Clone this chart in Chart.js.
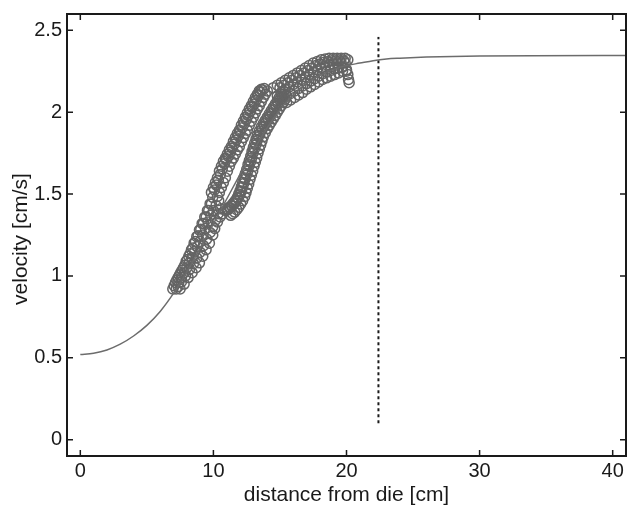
<!DOCTYPE html>
<html>
<head>
<meta charset="utf-8">
<script src="https://cdn.jsdelivr.net/npm/chart.js@4.4.0/dist/chart.umd.min.js"></script>
<style>
  html, body { margin: 0; padding: 0; background: #fff; overflow: hidden; }
  #wrap { width: 627px; height: 506px; position: relative; overflow: hidden; }
  #chart { display: block; }
</style>
</head>
<body>
<div id="wrap"><canvas id="chart"></canvas></div>
<script>
const xTicks = [0, 10, 20, 30, 40];
const yTicks = [0, 0.5, 1, 1.5, 2, 2.5];
const xLabel = 'distance from die [cm]';
const yLabel = 'velocity [cm/s]';

// fitted velocity curve
const fitX = [0, 1, 2, 3, 4, 5, 6, 7, 8, 9, 10, 11, 12, 13, 14, 15, 16, 17, 18, 19, 20, 21, 22, 23, 24, 26, 28, 30, 34, 41];
const fitY = [0.52, 0.528, 0.548, 0.583, 0.633, 0.698, 0.783, 0.893, 1.023, 1.168, 1.318, 1.47, 1.62, 1.765, 1.9, 2.015, 2.105, 2.175, 2.225, 2.26, 2.285, 2.30, 2.315, 2.325, 2.33, 2.337, 2.341, 2.343, 2.345, 2.346];

// measured points (open circles), read along the bands
const lowerLeft = [[6.95,0.92],[7.15,0.96],[7.35,0.99],[7.55,1.02],[7.75,1.05],[7.95,1.09],[8.15,1.12],[8.35,1.16],[8.55,1.20],[8.75,1.24],[8.95,1.28],[9.15,1.32],[9.35,1.36],[9.55,1.40],[9.75,1.44],[9.95,1.48]];
const lowerLeft2 = [[7.05,0.94],[7.25,0.975],[7.45,1.005],[7.65,1.035],[7.85,1.065],[8.05,1.10],[8.25,1.135],[8.45,1.17],[8.65,1.21],[8.85,1.245],[9.05,1.285],[9.25,1.32],[9.45,1.36],[9.65,1.40],[9.85,1.44]];
const lowerMid = [[7.2,0.92],[7.4,0.96],[7.6,0.99],[7.8,1.02],[8.0,1.05],[8.2,1.08],[8.4,1.11],[8.6,1.15],[8.8,1.18],[9.0,1.21],[9.2,1.25],[9.4,1.29],[9.6,1.33],[9.8,1.37],[10.0,1.40],[10.2,1.43],[10.4,1.46]];
const lowerRight2 = [[7.35,0.935],[7.6,0.965],[7.9,1.0],[8.2,1.04],[8.5,1.075],[8.75,1.11],[9.0,1.145],[9.25,1.185],[9.5,1.225],[9.75,1.265],[9.95,1.30],[10.15,1.34],[10.35,1.38],[10.55,1.41]];
const lowerRight = [[7.5,0.92],[7.8,0.95],[8.1,0.99],[8.4,1.02],[8.7,1.05],[8.95,1.08],[9.2,1.12],[9.45,1.16],[9.7,1.20],[9.95,1.25],[10.1,1.29],[10.3,1.33],[10.5,1.36],[10.7,1.38]];
const leftBranchA = [[9.85,1.51],[10.0,1.54],[10.15,1.57],[10.3,1.60],[10.45,1.64],[10.6,1.67],[10.75,1.70],[10.9,1.72],[11.05,1.745],[11.2,1.77],[11.35,1.79],[11.5,1.82],[11.65,1.845],[11.8,1.87],[11.95,1.89],[12.1,1.92],[12.25,1.945],[12.4,1.97],[12.55,1.995],[12.7,2.02],[12.85,2.04],[13.0,2.065],[13.15,2.09],[13.3,2.11],[13.45,2.13],[13.6,2.14]];
const leftBranchM = [[10.07,1.525],[10.22,1.555],[10.37,1.585],[10.52,1.62],[10.67,1.655],[10.82,1.685],[10.97,1.71],[11.12,1.73],[11.27,1.755],[11.42,1.78],[11.57,1.805],[11.72,1.83],[11.87,1.855],[12.02,1.88],[12.17,1.905],[12.32,1.93],[12.47,1.955],[12.62,1.98],[12.77,2.005],[12.92,2.03],[13.07,2.05],[13.22,2.075],[13.37,2.10],[13.52,2.12],[13.67,2.135],[13.82,2.145]];
const leftBranchB = [[10.3,1.485],[10.45,1.51],[10.6,1.54],[10.75,1.57],[10.9,1.60],[11.05,1.64],[11.2,1.67],[11.35,1.70],[11.5,1.72],[11.65,1.745],[11.8,1.77],[11.95,1.79],[12.1,1.82],[12.25,1.845],[12.4,1.87],[12.55,1.89],[12.7,1.92],[12.85,1.945],[13.0,1.97],[13.15,1.995],[13.3,2.02],[13.45,2.04],[13.6,2.065],[13.75,2.09],[13.9,2.11],[14.05,2.13]];
const rightBranchA = [[10.9,1.40],[11.05,1.41],[11.2,1.42],[11.35,1.43],[11.5,1.445],[11.65,1.46],[11.8,1.48],[11.9,1.50],[12.0,1.52],[12.1,1.545],[12.2,1.57],[12.3,1.60],[12.4,1.625],[12.5,1.65],[12.6,1.68],[12.7,1.705],[12.8,1.73],[12.9,1.76],[13.0,1.785],[13.1,1.81],[13.2,1.835],[13.3,1.86],[13.45,1.885],[13.6,1.91],[13.75,1.93],[13.9,1.95],[14.05,1.97],[14.2,1.99],[14.35,2.01],[14.5,2.03],[14.65,2.05],[14.8,2.07],[14.95,2.09],[15.1,2.11],[15.25,2.13]];
const rightBranchM = [[11.1,1.405],[11.25,1.415],[11.4,1.425],[11.55,1.44],[11.7,1.455],[11.85,1.475],[11.98,1.495],[12.08,1.515],[12.18,1.54],[12.28,1.565],[12.38,1.59],[12.48,1.615],[12.58,1.64],[12.68,1.67],[12.78,1.695],[12.88,1.72],[12.98,1.75],[13.08,1.775],[13.18,1.80],[13.28,1.825],[13.38,1.85],[13.5,1.87],[13.65,1.895],[13.8,1.915],[13.95,1.935],[14.1,1.955],[14.25,1.975],[14.4,1.995],[14.55,2.015],[14.7,2.035],[14.85,2.055],[15.0,2.075],[15.15,2.095],[15.3,2.11]];
const rightBranchB = [[11.3,1.37],[11.45,1.38],[11.6,1.39],[11.75,1.405],[11.9,1.42],[12.05,1.44],[12.2,1.46],[12.35,1.485],[12.45,1.51],[12.55,1.535],[12.65,1.56],[12.75,1.59],[12.85,1.615],[12.95,1.64],[13.05,1.67],[13.15,1.695],[13.25,1.72],[13.35,1.75],[13.45,1.775],[13.55,1.80],[13.65,1.825],[13.75,1.85],[13.9,1.875],[14.05,1.90],[14.2,1.92],[14.35,1.94],[14.5,1.96],[14.65,1.98],[14.8,2.00],[14.95,2.02],[15.1,2.04],[15.25,2.06],[15.4,2.08]];
const upperTop = [[14.5,2.15],[14.8,2.165],[15.1,2.18],[15.4,2.195],[15.7,2.21],[16.0,2.225],[16.3,2.24],[16.6,2.255],[16.9,2.27],[17.2,2.285],[17.5,2.30],[17.8,2.31],[18.1,2.32],[18.4,2.325],[18.7,2.33],[19.0,2.33],[19.3,2.33],[19.6,2.33],[19.9,2.33],[20.1,2.32]];
const upperMid2 = [[15.0,2.15],[15.3,2.165],[15.6,2.18],[15.9,2.195],[16.2,2.21],[16.5,2.225],[16.8,2.24],[17.1,2.255],[17.4,2.27],[17.7,2.285],[18.0,2.295],[18.3,2.305],[18.6,2.31],[18.9,2.315],[19.2,2.315],[19.5,2.315],[19.8,2.315]];
const upperMid = [[14.8,2.10],[15.1,2.12],[15.4,2.14],[15.7,2.155],[16.0,2.17],[16.3,2.185],[16.6,2.20],[16.9,2.215],[17.2,2.23],[17.5,2.245],[17.8,2.26],[18.1,2.27],[18.4,2.28],[18.7,2.29],[19.0,2.295],[19.3,2.30],[19.6,2.30],[19.9,2.30]];
const upperLow2 = [[15.2,2.085],[15.5,2.10],[15.8,2.115],[16.1,2.13],[16.4,2.145],[16.7,2.16],[17.0,2.175],[17.3,2.19],[17.6,2.205],[17.9,2.22],[18.2,2.235],[18.5,2.245],[18.8,2.255],[19.1,2.265],[19.4,2.27],[19.7,2.275]];
const upperLow = [[15.5,2.06],[15.8,2.075],[16.1,2.09],[16.4,2.105],[16.7,2.12],[17.0,2.14],[17.3,2.155],[17.6,2.17],[17.9,2.185],[18.2,2.20],[18.5,2.21],[18.8,2.22],[19.1,2.23],[19.4,2.24],[19.7,2.25],[20.0,2.25]];
const endDroop = [[20.0,2.26],[20.1,2.23],[20.15,2.20],[20.2,2.18]];

// dashed marker
const dieLine = [[22.4, 0.1], [22.4, 2.46]];

const toPts = arr => arr.map(p => ({ x: p[0], y: p[1] }));
const measured = [lowerLeft, lowerLeft2, lowerMid, lowerRight2, lowerRight,
  leftBranchA, leftBranchM, leftBranchB, rightBranchA, rightBranchM, rightBranchB,
  upperTop, upperMid2, upperMid, upperLow2, upperLow, endDroop].flatMap(toPts);
const fitPts = fitX.map((x, i) => ({ x, y: fitY[i] }));

const FONT = '"Liberation Sans", Arial, sans-serif';
const INK = '#1a1a1a';

const axesBox = {
  id: 'axesBox',
  afterDraw(chart) {
    const { ctx, chartArea: a, scales: { x, y } } = chart;
    ctx.save();
    ctx.strokeStyle = INK;
    ctx.lineWidth = 2;
    ctx.strokeRect(a.left, a.top, a.right - a.left, a.bottom - a.top);
    ctx.lineWidth = 1.5;
    ctx.beginPath();
    xTicks.forEach(v => {
      const p = x.getPixelForValue(v);
      ctx.moveTo(p, a.bottom); ctx.lineTo(p, a.bottom - 6);
      ctx.moveTo(p, a.top); ctx.lineTo(p, a.top + 6);
    });
    yTicks.forEach(v => {
      const p = y.getPixelForValue(v);
      ctx.moveTo(a.left, p); ctx.lineTo(a.left + 6, p);
      ctx.moveTo(a.right, p); ctx.lineTo(a.right - 6, p);
    });
    ctx.stroke();

    ctx.fillStyle = INK;
    ctx.font = '21px ' + FONT;
    ctx.textAlign = 'center';
    ctx.textBaseline = 'alphabetic';
    ctx.fillText(xLabel, (a.left + a.right) / 2, 501);
    ctx.translate(27, (a.top + a.bottom) / 2 + 4);
    ctx.rotate(-Math.PI / 2);
    ctx.fillText(yLabel, 0, 0);
    ctx.restore();
  }
};

new Chart(document.getElementById('chart'), {
  type: 'scatter',
  data: {
    datasets: [
      {
        data: fitPts,
        showLine: true,
        borderColor: '#6c6c6c',
        borderWidth: 1.5,
        pointRadius: 0,
        cubicInterpolationMode: 'monotone'
      },
      {
        data: measured,
        showLine: false,
        pointRadius: 5,
        pointBorderWidth: 1.5,
        pointBorderColor: '#646464',
        pointBackgroundColor: 'rgba(0,0,0,0)'
      },
      {
        data: toPts(dieLine),
        showLine: true,
        borderColor: INK,
        borderWidth: 2,
        borderDash: [3, 3],
        pointRadius: 0
      }
    ]
  },
  options: {
    responsive: true,
    maintainAspectRatio: false,
    animation: false,
    layout: { autoPadding: false, padding: { top: 14, right: 1, left: 0, bottom: 0 } },
    plugins: { legend: { display: false }, tooltip: { enabled: false } },
    scales: {
      x: {
        type: 'linear',
        min: -1,
        max: 41,
        afterBuildTicks: s => { s.ticks = xTicks.map(v => ({ value: v })); },
        afterFit: s => { s.height = 50; s.paddingLeft = 0; s.paddingRight = 0; },
        ticks: { font: { family: FONT, size: 20 }, color: INK, padding: 3, maxRotation: 0, autoSkip: false },
        grid: { display: false, drawTicks: false },
        border: { display: false }
      },
      y: {
        type: 'linear',
        min: -0.1,
        max: 2.6,
        afterBuildTicks: s => { s.ticks = yTicks.map(v => ({ value: v })); },
        afterFit: s => { s.width = 67; s.paddingTop = 0; s.paddingBottom = 0; },
        ticks: { font: { family: FONT, size: 20 }, color: INK, padding: 5, autoSkip: false, callback: v => String(v) },
        grid: { display: false, drawTicks: false },
        border: { display: false }
      }
    }
  },
  plugins: [axesBox]
});
</script>
</body>
</html>
